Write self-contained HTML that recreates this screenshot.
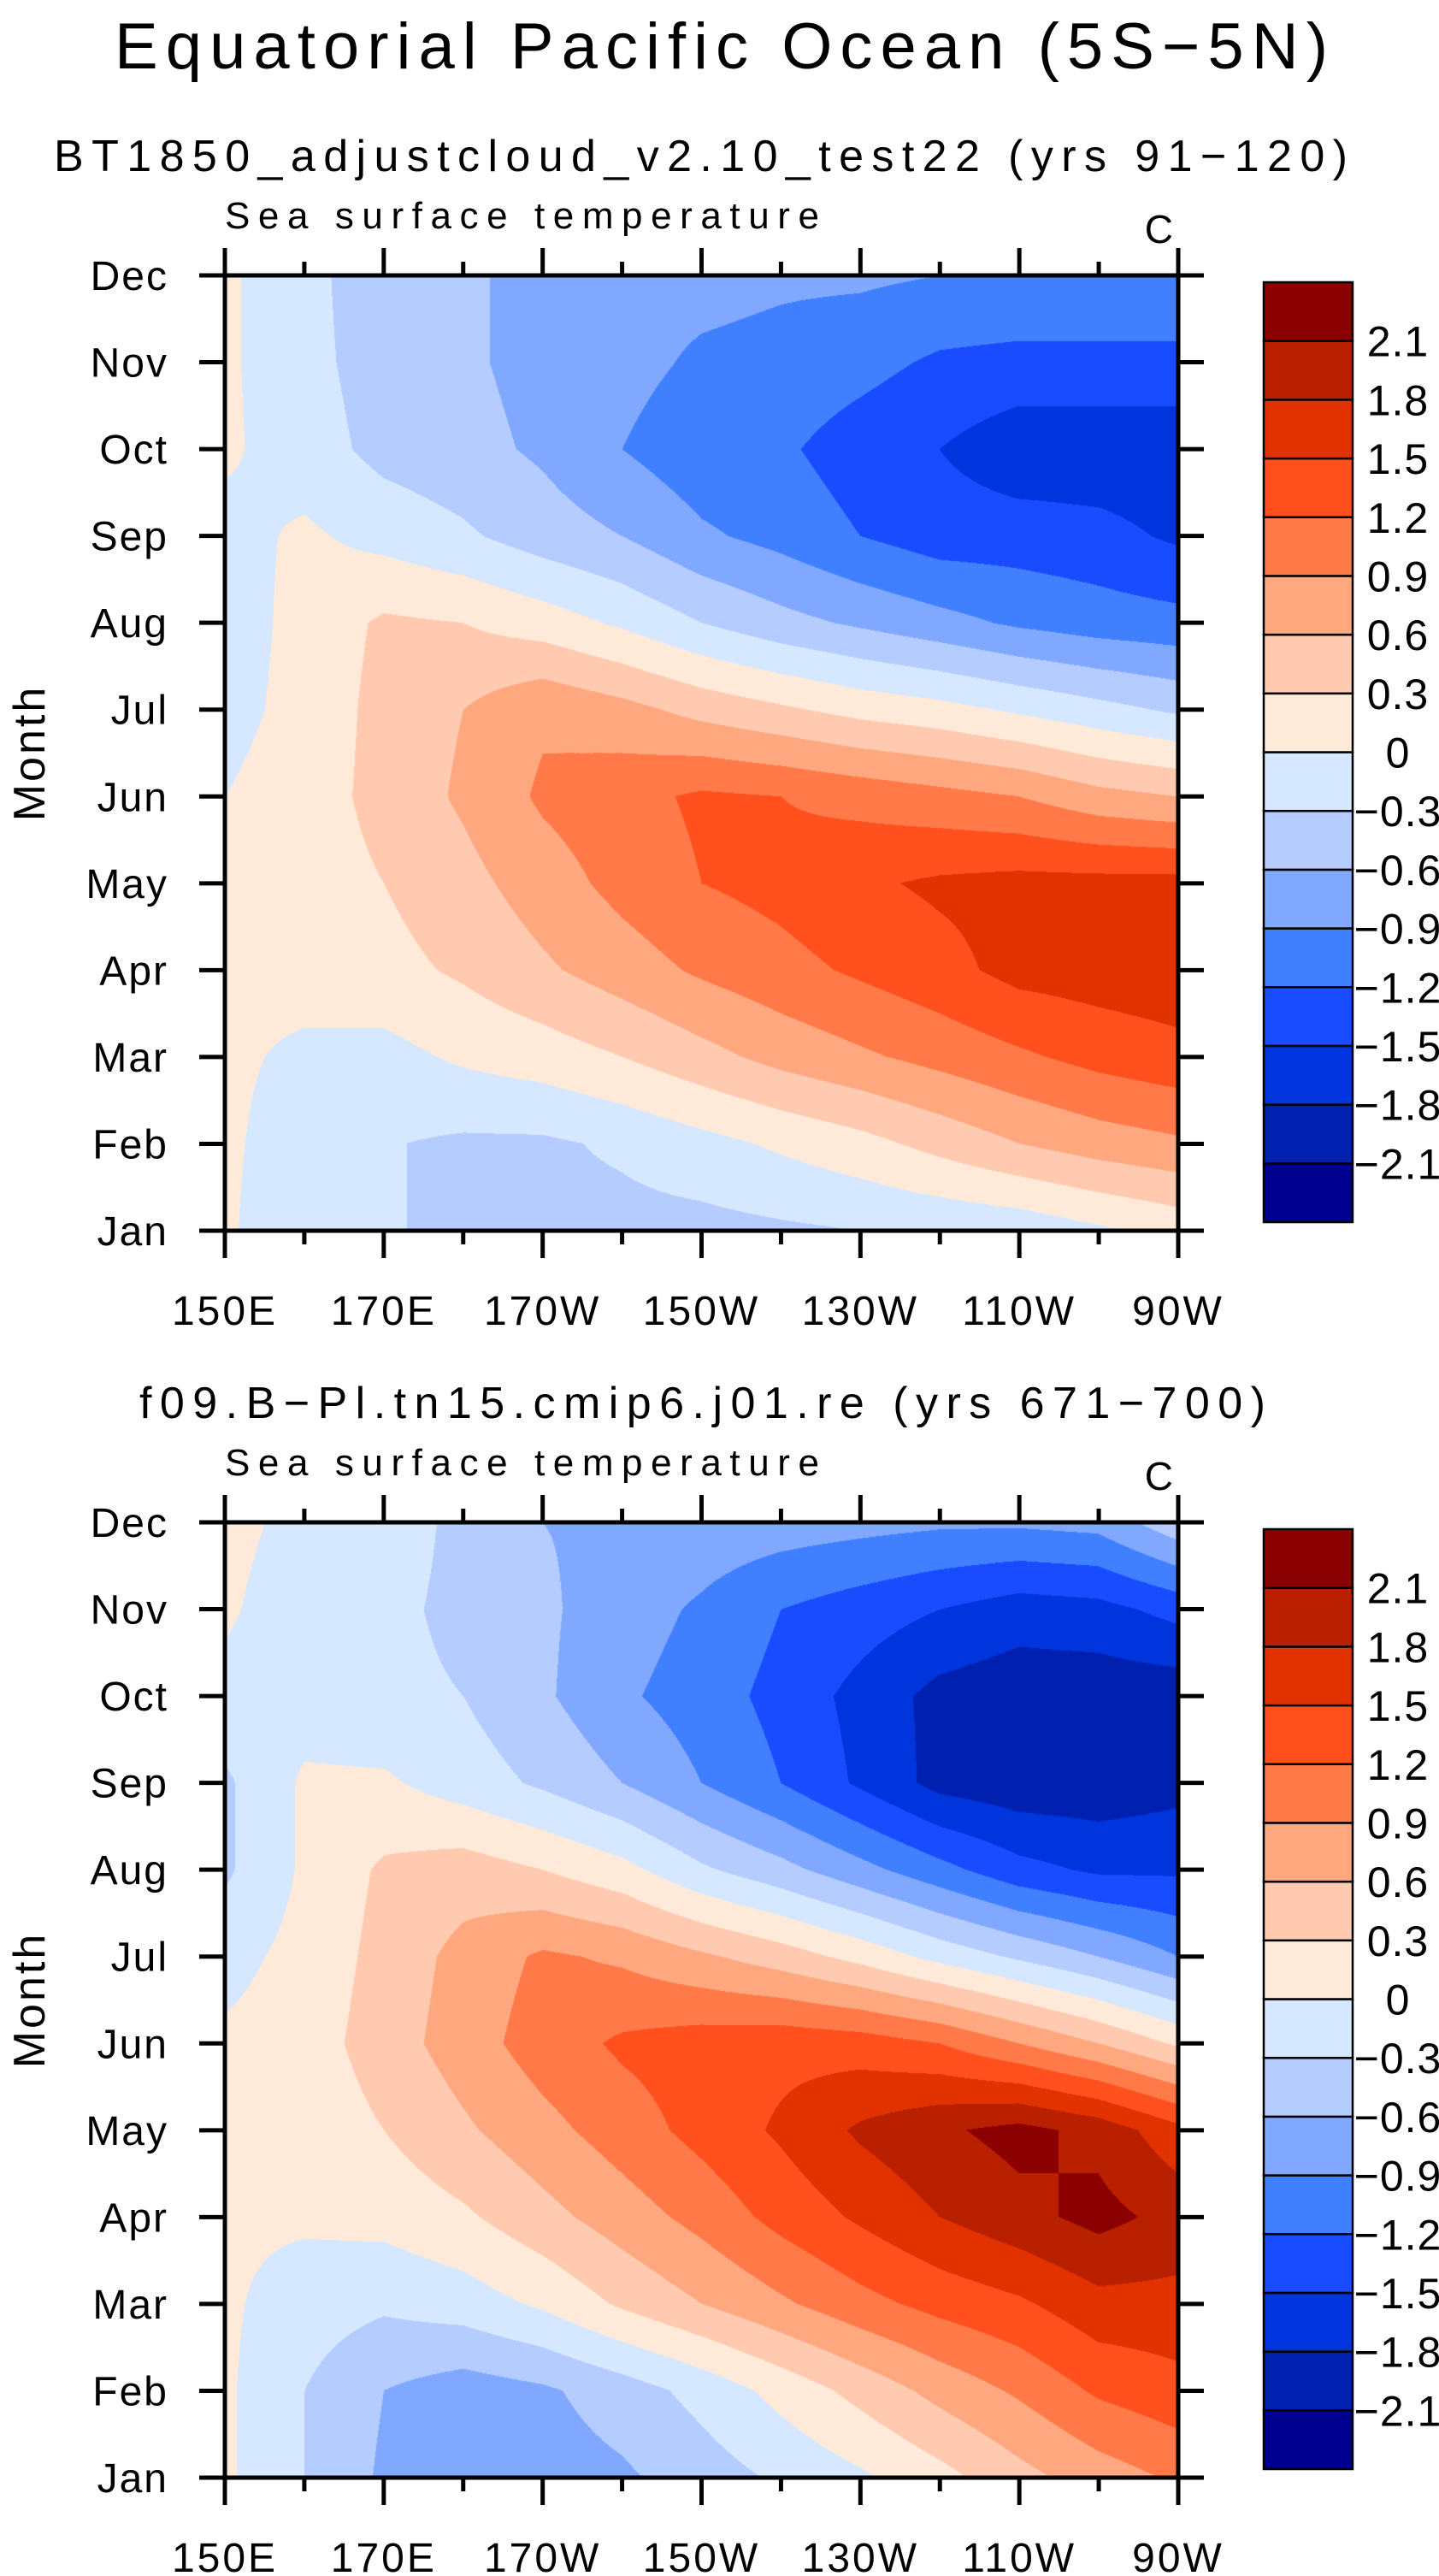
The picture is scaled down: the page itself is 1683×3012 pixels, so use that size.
<!DOCTYPE html>
<html><head><meta charset="utf-8"><style>
html,body{margin:0;padding:0;background:#fff;}
#root{position:relative;width:1683px;height:3012px;overflow:hidden;font-family:"Liberation Sans",sans-serif;}
canvas{position:absolute;}
svg{position:absolute;left:0;top:0;}
text{font-family:"Liberation Sans",sans-serif;fill:#000;}
</style></head><body>
<div id="root">
<canvas id="c1"></canvas>
<canvas id="c2"></canvas>
<svg id="ov" width="1683" height="3012"></svg>
</div>
<script>
const months = ["Jan","Feb","Mar","Apr","May","Jun","Jul","Aug","Sep","Oct","Nov","Dec"];
const lons = [150,160,170,180,190,200,210,220,230,240,250,260,270];
const xTickLabels = ["150E","170E","170W","150W","130W","110W","90W"];
const levels = [-2.1,-1.8,-1.5,-1.2,-0.9,-0.6,-0.3,0,0.3,0.6,0.9,1.2,1.5,1.8,2.1];
const levelLabels = ["−2.1","−1.8","−1.5","−1.2","−0.9","−0.6","−0.3","0","0.3","0.6","0.9","1.2","1.5","1.8","2.1"];
const colors = ["#000090","#0020b0","#0034dd","#1a4cff","#4080ff","#80a8ff","#b4ccff","#d6e8ff","#ffeada","#ffcab0","#ffa880","#ff7a48","#ff501e","#e23200","#b92000","#8b0000"];
// rows Jan..Dec, columns lons
const sst1 = [
[0.05,-0.25,-0.28,-0.35,-0.4,-0.4,-0.4,-0.35,-0.3,-0.25,-0.2,-0.05,0.1],
[0.05,-0.15,-0.28,-0.35,-0.35,-0.25,-0.1,0.05,0.2,0.4,0.6,0.75,0.85],
[0.05,-0.05,-0.1,0.05,0.15,0.3,0.5,0.7,0.85,1.0,1.15,1.3,1.4],
[0.05,0.1,0.2,0.35,0.55,0.75,0.95,1.1,1.25,1.4,1.6,1.65,1.7],
[0.05,0.15,0.3,0.5,0.75,1.0,1.2,1.3,1.45,1.55,1.6,1.6,1.6],
[0.0,0.15,0.4,0.65,0.95,1.1,1.25,1.2,1.1,1.0,0.9,0.7,0.6],
[-0.1,0.1,0.4,0.6,0.85,0.7,0.5,0.35,0.2,0.1,-0.05,-0.2,-0.35],
[-0.15,0.1,0.35,0.3,0.15,-0.05,-0.3,-0.5,-0.65,-0.8,-0.95,-1.05,-1.1],
[-0.1,0.05,-0.1,-0.25,-0.45,-0.6,-0.85,-1.0,-1.2,-1.35,-1.35,-1.4,-1.55],
[0.05,-0.15,-0.4,-0.5,-0.65,-0.9,-1.1,-1.15,-1.35,-1.5,-1.7,-1.7,-1.7],
[0.05,-0.2,-0.45,-0.55,-0.7,-0.8,-0.95,-1.0,-1.1,-1.25,-1.3,-1.3,-1.3],
[0.05,-0.2,-0.5,-0.5,-0.8,-0.8,-0.8,-0.85,-0.85,-0.9,-0.9,-0.9,-0.9]
];
const sst2 = [
[0.05,-0.3,-0.65,-0.75,-0.75,-0.65,-0.45,-0.25,-0.05,0.2,0.5,0.75,0.95],
[0.05,-0.3,-0.6,-0.75,-0.65,-0.45,-0.2,0.1,0.4,0.7,0.95,1.25,1.4],
[0.05,-0.15,-0.25,-0.15,0.05,0.35,0.6,0.85,1.1,1.3,1.45,1.7,1.7],
[0.05,0.05,0.1,0.25,0.5,0.75,1.0,1.3,1.55,1.8,2.0,2.2,2.0],
[0.05,0.1,0.3,0.55,0.8,1.05,1.3,1.55,1.85,2.05,2.2,2.0,1.6],
[0.05,0.15,0.45,0.75,1.05,1.25,1.35,1.4,1.35,1.2,0.9,0.6,0.25],
[-0.1,0.1,0.4,0.7,0.95,0.85,0.65,0.45,0.2,-0.1,-0.35,-0.6,-0.9],
[-0.35,0.05,0.35,0.45,0.3,0.1,-0.25,-0.5,-0.8,-1.1,-1.4,-1.55,-1.55],
[-0.35,0.05,0.05,-0.15,-0.35,-0.6,-0.9,-1.2,-1.55,-1.9,-2.0,-2.0,-1.9],
[-0.1,-0.15,-0.25,-0.3,-0.55,-0.85,-1.05,-1.3,-1.6,-1.9,-2.0,-2.0,-2.0],
[0.05,-0.2,-0.25,-0.35,-0.55,-0.75,-0.95,-1.2,-1.35,-1.5,-1.65,-1.6,-1.4],
[0.1,-0.1,-0.2,-0.35,-0.6,-0.65,-0.7,-0.75,-0.8,-0.85,-0.85,-0.8,-0.4]
];
const titles1 = "BT1850_adjustcloud_v2.10_test22 (yrs 91−120)";
const titles2 = "f09.B−Pl.tn15.cmip6.j01.re (yrs 671−700)";

const L=263, R=1378, W=R-L, H=1117;
const panels=[{top:322,data:sst1,title:titles1,tx:63,tw:1513,cid:"c1",n:1},{top:1780,data:sst2,title:titles2,tx:163,tw:1317,cid:"c2",n:2}];
const NS="http://www.w3.org/2000/svg";
const ov=document.getElementById("ov");
function mk(tag,attrs,txt){const e=document.createElementNS(NS,tag);for(const k in attrs)e.setAttribute(k,attrs[k]);if(txt!==undefined)e.textContent=txt;ov.appendChild(e);return e;}
function hex(c){return [parseInt(c.substr(1,2),16),parseInt(c.substr(3,2),16),parseInt(c.substr(5,2),16)];}
const rgb=colors.map(hex);
function colorIdx(v){let i=0;while(i<levels.length&&v>=levels[i])i++;return i;}
function xScale(lon){return L+(lon-lons[0])/(lons[lons.length-1]-lons[0])*W;}

let t=mk("text",{x:134,y:80,"font-size":76,textLength:1419,lengthAdjust:"spacing"},"Equatorial Pacific Ocean (5S−5N)");



panels.forEach(p=>{
  const top=p.top,bot=top+H;
  function yScale(m){return bot-m/(months.length-1)*H;}
  const cv=document.getElementById(p.cid);
  cv.width=W;cv.height=H;cv.style.left=L+"px";cv.style.top=top+"px";
  const ctx=cv.getContext("2d");const img=ctx.createImageData(W,H);
  const nx=lons.length-1,ny=months.length-1;
  for(let py=0;py<H;py++){
    const fy=(H-1-py)/(H-1)*ny;let j=Math.min(Math.floor(fy),ny-1);const ty=fy-j;
    for(let px=0;px<W;px++){
      const fx=px/(W-1)*nx;let i=Math.min(Math.floor(fx),nx-1);const tx=fx-i;
      const d=p.data;
      const v=(d[j][i]*(1-tx)+d[j][i+1]*tx)*(1-ty)+(d[j+1][i]*(1-tx)+d[j+1][i+1]*tx)*ty;
      const c=rgb[colorIdx(v)];const o=(py*W+px)*4;
      img.data[o]=c[0];img.data[o+1]=c[1];img.data[o+2]=c[2];img.data[o+3]=255;
    }
  }
  ctx.putImageData(img,0,0);
  let s=mk("text",{x:p.tx,y:top-122,"font-size":52,textLength:p.tw,lengthAdjust:"spacing"},p.title);
  
  
  s=mk("text",{x:L,y:top-55,"font-size":44,textLength:695,lengthAdjust:"spacing"},"Sea surface temperature");
  
  
  s=mk("text",{x:R-6,y:top-38,"font-size":46,"text-anchor":"end"},"C");
  
  
  s=mk("rect",{x:L,y:top,width:W,height:H,fill:"none",stroke:"#000","stroke-width":5});
  
  
  months.forEach((m,k)=>{
    const y=yScale(k);
    let e=mk("line",{x1:L-30,x2:L,y1:y,y2:y,stroke:"#000","stroke-width":5});
    
    
    e=mk("line",{x1:R,x2:R+30,y1:y,y2:y,stroke:"#000","stroke-width":5});
    
    
    e=mk("text",{x:197,y:y+17,"font-size":48,"text-anchor":"end","letter-spacing":2},m);
    
    
  });
  s=mk("text",{x:0,y:0,"font-size":52,"text-anchor":"middle","letter-spacing":3,transform:`translate(52,${top+H/2}) rotate(-90)`},"Month");
  
  
  for(let lon=150;lon<=270;lon+=10){
    const x=xScale(lon);const major=(lon-150)%20===0;const len=major?32:16;
    let e=mk("line",{x1:x,x2:x,y1:top-len,y2:top,stroke:"#000","stroke-width":5});
    
    
    e=mk("line",{x1:x,x2:x,y1:bot,y2:bot+len,stroke:"#000","stroke-width":5});
    
    
  }
  xTickLabels.forEach((lab,k)=>{
    const e=mk("text",{x:xScale(150+k*20),y:bot+110,"font-size":48,"text-anchor":"middle","letter-spacing":3},lab);
    
    
  });
  const cbT=top+8,cbB=bot-10,cbL=1478,cbW=104,bh=(cbB-cbT)/colors.length;
  colors.forEach((c,k)=>{
    const e=mk("rect",{x:cbL,y:cbB-(k+1)*bh,width:cbW,height:bh,fill:c,stroke:"#000","stroke-width":2.5});
    
    
  });
  levelLabels.forEach((lab,k)=>{
    const e=mk("text",{x:1635,y:cbB-(k+1)*bh+18,"font-size":50,"text-anchor":"middle","letter-spacing":1},lab);
    
    
  });
});
</script>
</body></html>
